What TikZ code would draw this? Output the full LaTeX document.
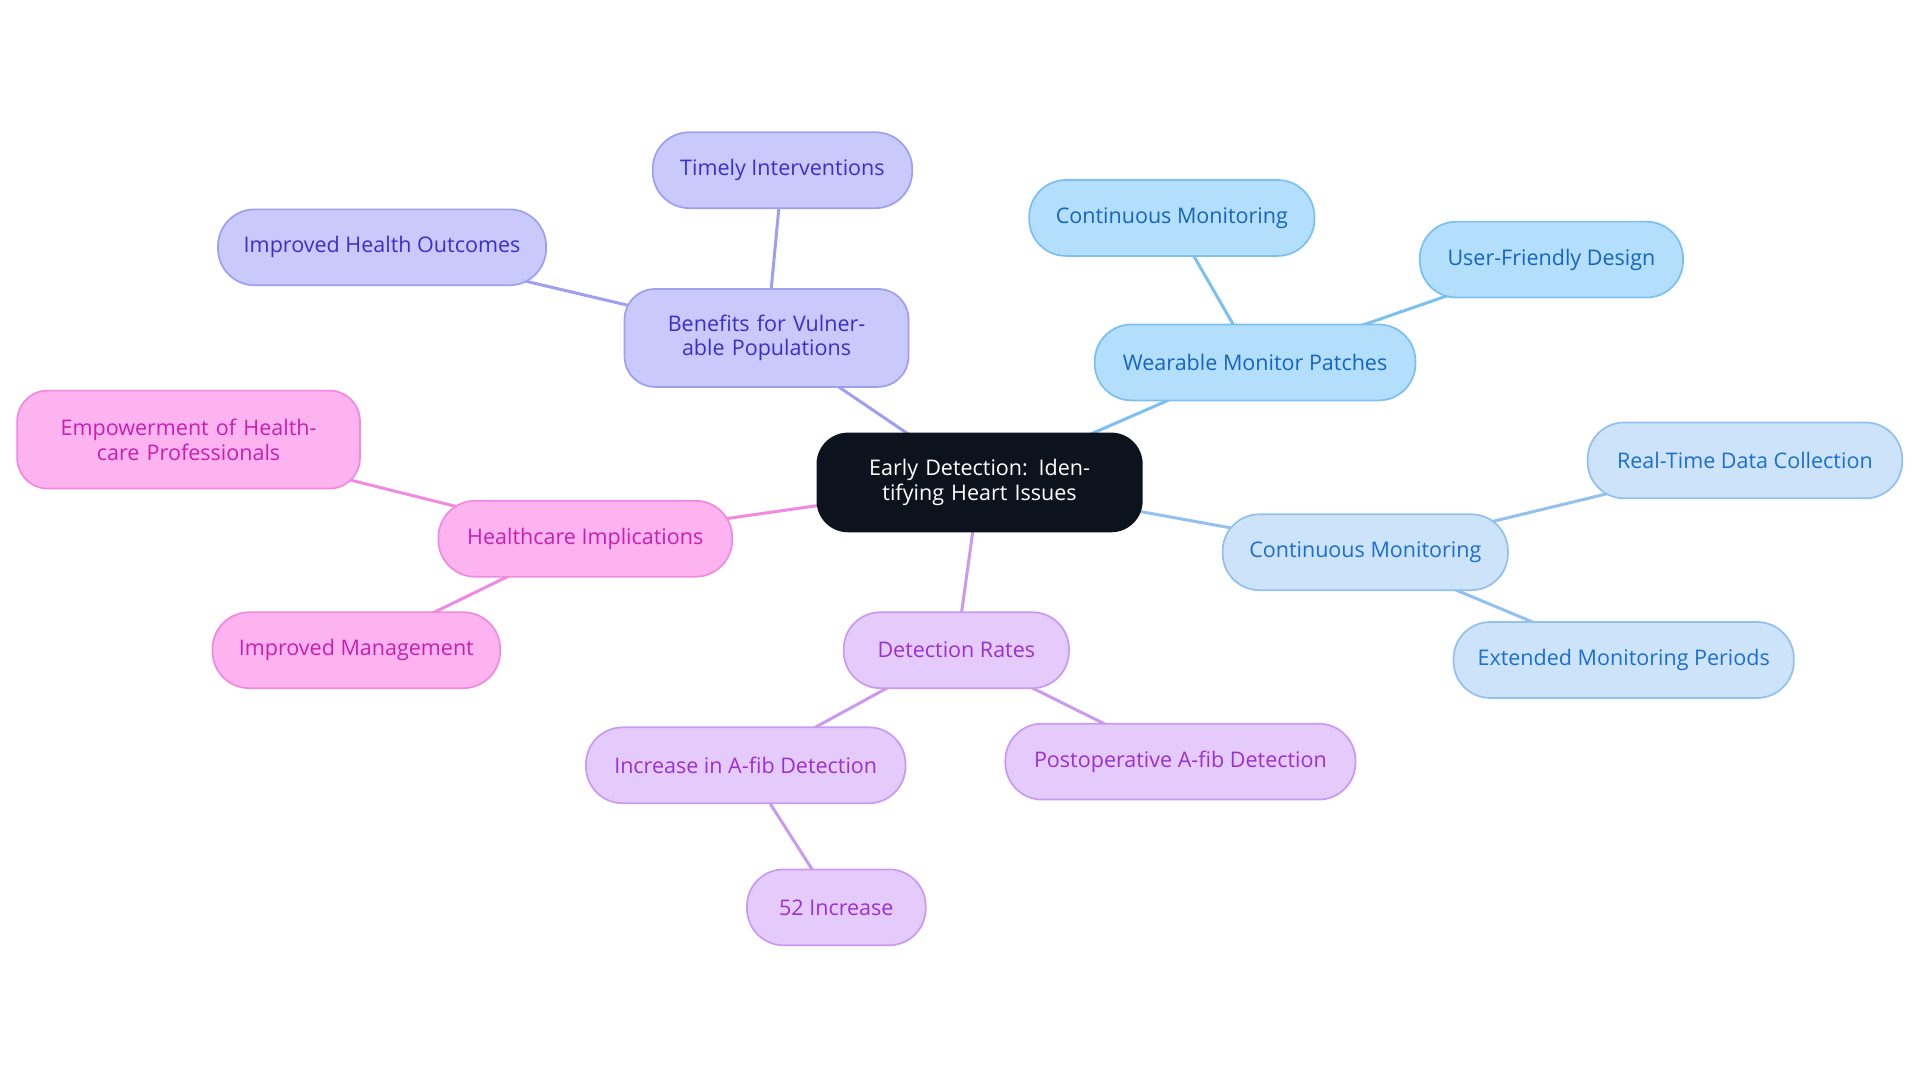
\documentclass[tikz,border=0pt]{standalone}
\usepackage{fontspec}
\setmainfont{Open Sans}
\usetikzlibrary{backgrounds}
\definecolor{rootc}{HTML}{0D131C}
\definecolor{bF}{HTML}{C9C9FC}\definecolor{bD}{HTML}{9F9FF0}\definecolor{bT}{HTML}{3B2FC9}
\definecolor{wF}{HTML}{B3DEFC}\definecolor{wD}{HTML}{7CC0F0}\definecolor{wT}{HTML}{1565C0}
\definecolor{cF}{HTML}{CDE3FA}\definecolor{cD}{HTML}{92C0EF}\definecolor{cT}{HTML}{1A6FD0}
\definecolor{dF}{HTML}{E5CBFB}\definecolor{dD}{HTML}{C99AF0}\definecolor{dT}{HTML}{9B30D0}
\definecolor{hF}{HTML}{FDB3EF}\definecolor{hD}{HTML}{F08AE0}\definecolor{hT}{HTML}{C81FAE}
\tikzset{
 box/.style={draw, line width=0.8pt, rounded corners=0.6cm, minimum height=1.24cm, inner sep=0pt, align=center, font=\fontsize{10}{11.5}\selectfont},
 tall/.style={minimum height=1.6cm, rounded corners=0.5cm, text width=#1},
 grpB/.style={box, fill=bF, draw=bD, text=bT},
 grpW/.style={box, fill=wF, draw=wD, text=wT},
 grpC/.style={box, fill=cF, draw=cD, text=cT},
 grpD/.style={box, fill=dF, draw=dD, text=dT},
 grpH/.style={box, fill=hF, draw=hD, text=hT},
 lk/.style={line width=1.4pt}
}
\begin{document}
\begin{tikzpicture}[x=0.02cm,y=-0.02cm]
\useasboundingbox (0,0) rectangle (1568,884);
\node[box, fill=rootc, draw=rootc, text=white, minimum width=5.3cm, minimum height=1.6cm, rounded corners=0.5cm, text width=4.6cm] (root) at (800,394) {Early Detection: Identifying Heart Issues};
\node[grpB, minimum width=4.64cm, tall=4.2cm] (ben) at (626,276) {Benefits for Vulnerable Populations};
\node[grpB, minimum width=4.24cm] (ti) at (639,139) {Timely Interventions};
\node[grpB, minimum width=5.36cm] (iho) at (312,202) {Improved Health Outcomes};
\node[grpW, minimum width=5.24cm] (wmp) at (1025,296) {Wearable Monitor Patches};
\node[grpW, minimum width=4.66cm] (cm1) at (957,178) {Continuous Monitoring};
\node[grpW, minimum width=4.3cm] (ufd) at (1267,212) {User-Friendly Design};
\node[grpC, minimum width=4.66cm] (cm2) at (1115,451) {Continuous Monitoring};
\node[grpC, minimum width=5.14cm] (rtd) at (1425,376) {Real-Time Data Collection};
\node[grpC, minimum width=5.56cm] (emp) at (1326,539) {Extended Monitoring Periods};
\node[grpD, minimum width=3.68cm] (dr) at (781,531) {Detection Rates};
\node[grpD, minimum width=5.22cm] (ia) at (609,625) {Increase in A-fib Detection};
\node[grpD, minimum width=5.72cm] (pa) at (964,622) {Postoperative A-fib Detection};
\node[grpD, minimum width=2.92cm] (inc) at (683,741) {52 Increase};
\node[grpH, minimum width=4.8cm] (hi) at (478,440) {Healthcare Implications};
\node[grpH, minimum width=5.6cm, tall=5cm] (ehp) at (154,359) {Empowerment of Healthcare Professionals};
\node[grpH, minimum width=4.7cm] (im) at (291,531) {Improved Management};
\begin{scope}[on background layer]
\draw[lk, bD] (root.center) -- (ben.center);
\draw[lk, bD] (ben.center) -- (ti.center);
\draw[lk, bD] (ben.center) -- (iho.center);
\draw[lk, wD] (root.center) -- (wmp.center);
\draw[lk, wD] (wmp.center) -- (cm1.center);
\draw[lk, wD] (wmp.center) -- (ufd.center);
\draw[lk, cD] (root.center) -- (cm2.center);
\draw[lk, cD] (cm2.center) -- (rtd.center);
\draw[lk, cD] (cm2.center) -- (emp.center);
\draw[lk, dD] (root.center) -- (dr.center);
\draw[lk, dD] (dr.center) -- (ia.center);
\draw[lk, dD] (dr.center) -- (pa.center);
\draw[lk, dD] (ia.center) -- (inc.center);
\draw[lk, hD] (root.center) -- (hi.center);
\draw[lk, hD] (hi.center) -- (ehp.center);
\draw[lk, hD] (hi.center) -- (im.center);
\end{scope}
\end{tikzpicture}
\end{document}
